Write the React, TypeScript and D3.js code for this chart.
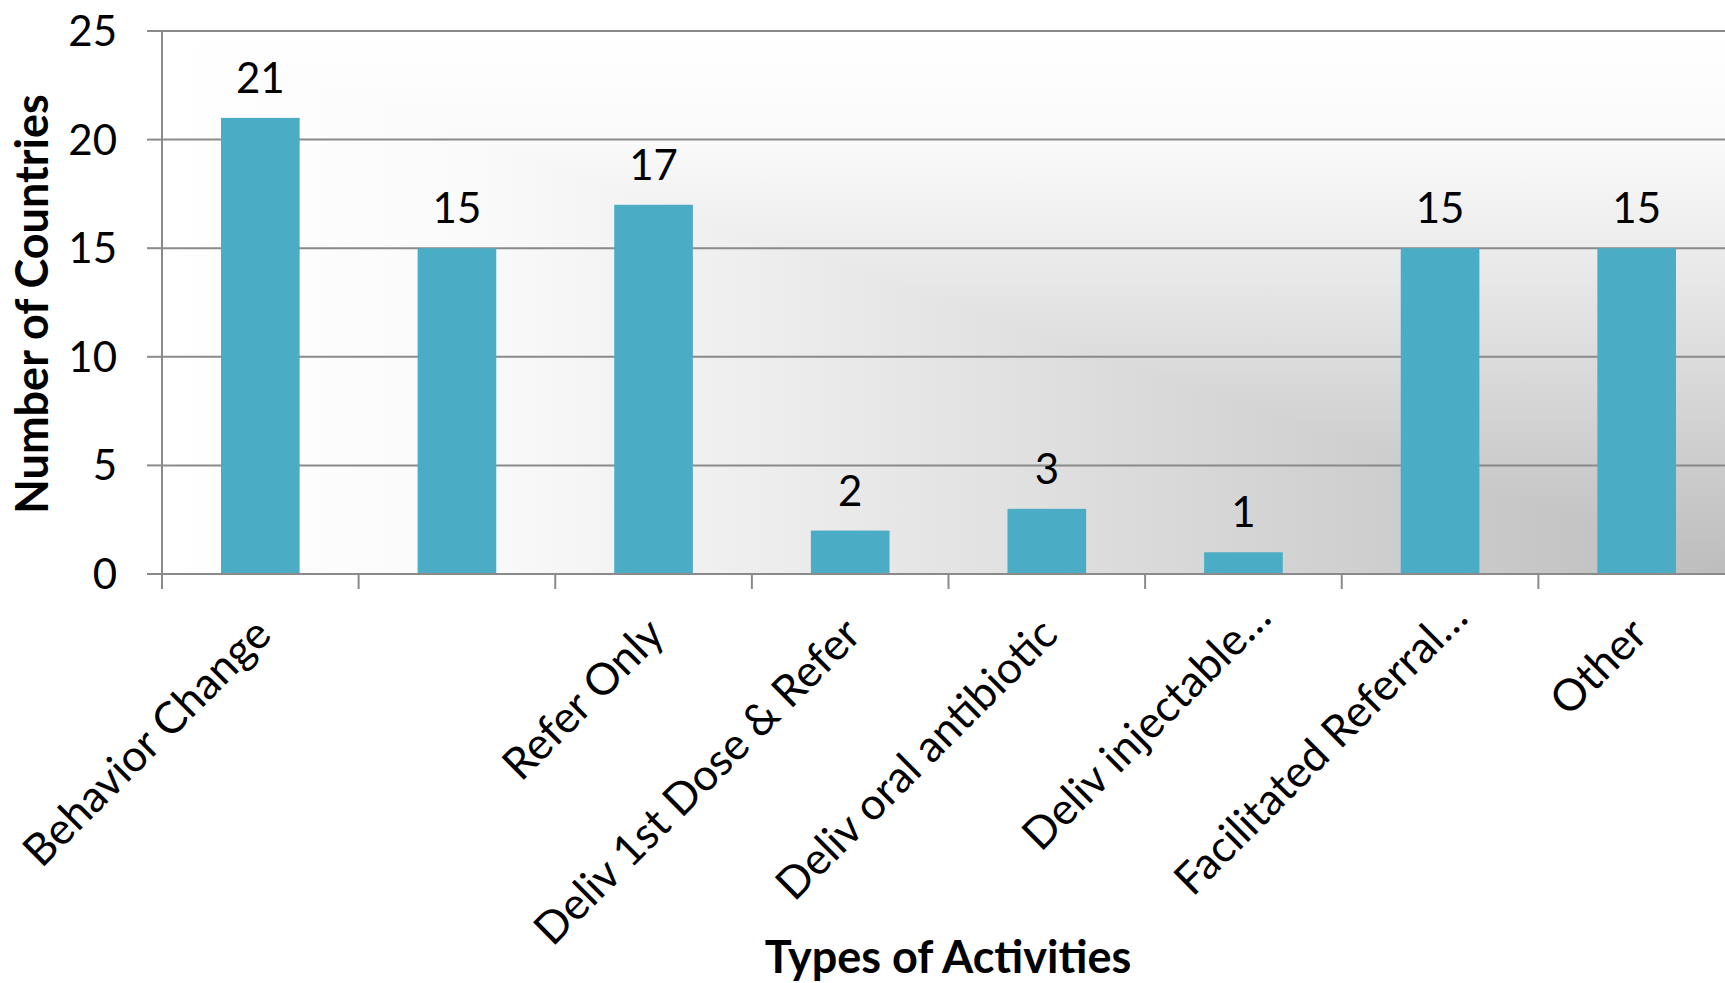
import React from "react";
import * as d3 from "d3";

const categories = [
  "Behavior Change",
  "",
  "Refer Only",
  "Deliv 1st Dose & Refer",
  "Deliv oral antibiotic",
  "Deliv injectable…",
  "Facilitated Referral…",
  "Other",
];
const values = [21, 15, 17, 2, 3, 1, 15, 15];
const yTicks = [0, 5, 10, 15, 20, 25];
const yTitle = "Number of Countries";
const xTitle = "Types of Activities";

const W = 1725;
const H = 983;
const X0 = 162;
const X1 = 1735;
const Y0 = 31;
const Y1 = 574;
const FONT = "Lato, 'Open Sans', sans-serif";
const GRID = "#8a8a8a";
const BAR = "#4BACC6";

const gradStops = [
  { o: 0, c: "#ffffff" },
  { o: 0.2, c: "#fafafa" },
  { o: 0.4, c: "#ececec" },
  { o: 0.55, c: "#e0e0e0" },
  { o: 0.75, c: "#d0d0d0" },
  { o: 1, c: "#bdbdbd" },
];

export default function App() {
  const idx = categories.map((_, i) => String(i));
  const x = d3.scaleBand().domain(idx).range([X0, X1]).paddingInner(0.6).paddingOuter(0.3);
  const xc = d3.scaleBand().domain(idx).range([X0, X1]).padding(0);
  const y = d3.scaleLinear().domain([0, 25]).range([Y1, Y0]);

  return (
    <svg
      width={W}
      height={H}
      viewBox={`0 0 ${W} ${H}`}
      style={{ position: "absolute", left: 0, top: 0, background: "#fff" }}
    >
      <defs>
        <linearGradient id="gv" gradientUnits="userSpaceOnUse" x1={0} y1={Y0} x2={0} y2={Y1}>
          {gradStops.map((s) => (
            <stop key={s.o} offset={s.o} stopColor={s.c} />
          ))}
        </linearGradient>
        <linearGradient id="gh" gradientUnits="userSpaceOnUse" x1={X0} y1={0} x2={X1} y2={0}>
          {gradStops.map((s) => (
            <stop key={s.o} offset={s.o} stopColor={s.c} />
          ))}
        </linearGradient>
      </defs>
      {/* plot area background: corner gradient */}
      <rect x={X0} y={Y0} width={X1 - X0} height={Y1 - Y0} fill="url(#gv)" />
      <polygon points={`${X0},${Y0} ${X1},${Y1} ${X0},${Y1}`} fill="url(#gh)" />

      {/* gridlines */}
      {yTicks
        .filter((t) => t > 0)
        .map((t) => (
          <line key={t} x1={X0} x2={X1} y1={y(t)} y2={y(t)} stroke={GRID} strokeWidth={2} />
        ))}

      {/* bars */}
      {values.map((v, i) => (
        <rect
          key={i}
          x={x(String(i))}
          y={y(v)}
          width={x.bandwidth()}
          height={y(0) - y(v)}
          fill={BAR}
        />
      ))}

      {/* axes */}
      <line x1={X0} x2={X0} y1={Y0} y2={Y1 + 15} stroke={GRID} strokeWidth={2} />
      <line x1={X0} x2={X1} y1={Y1} y2={Y1} stroke={GRID} strokeWidth={2} />
      {yTicks.map((t) => (
        <line key={"yt" + t} x1={X0 - 15} x2={X0} y1={y(t)} y2={y(t)} stroke={GRID} strokeWidth={2} />
      ))}
      {idx.map((k) => (
        <line
          key={"xt" + k}
          x1={xc(k)}
          x2={xc(k)}
          y1={Y1}
          y2={Y1 + 15}
          stroke={GRID}
          strokeWidth={2}
        />
      ))}

      {/* y tick labels */}
      {yTicks.map((t) => (
        <text
          key={"yl" + t}
          x={117}
          y={y(t) + 15}
          textAnchor="end"
          fontFamily={FONT}
          fontSize={42}
          fill="#000"
        >
          {t}
        </text>
      ))}

      {/* data labels */}
      {values.map((v, i) => (
        <text
          key={"dl" + i}
          x={x(String(i))! + x.bandwidth() / 2}
          y={y(v) - 25}
          textAnchor="middle"
          fontFamily={FONT}
          fontSize={42}
          fill="#000"
        >
          {v}
        </text>
      ))}

      {/* category labels */}
      {categories.map((c, i) => (
        <text
          key={"cl" + i}
          transform={`translate(${xc(String(i))! + xc.bandwidth() / 2 + 13},637) rotate(-45)`}
          textAnchor="end"
          dx={c.endsWith("…") ? 24 : 0}
          fontFamily={FONT}
          fontSize={44}
          fill="#000"
        >
          {c}
        </text>
      ))}

      {/* axis titles */}
      <text
        transform={`translate(48,304) rotate(-90)`}
        textAnchor="middle"
        fontFamily={FONT}
        fontWeight={700}
        fontSize={45}
        fill="#000"
      >
        {yTitle}
      </text>
      <text
        x={948}
        y={973}
        textAnchor="middle"
        fontFamily={FONT}
        fontWeight={700}
        fontSize={45}
        fill="#000"
      >
        {xTitle}
      </text>
    </svg>
  );
}
